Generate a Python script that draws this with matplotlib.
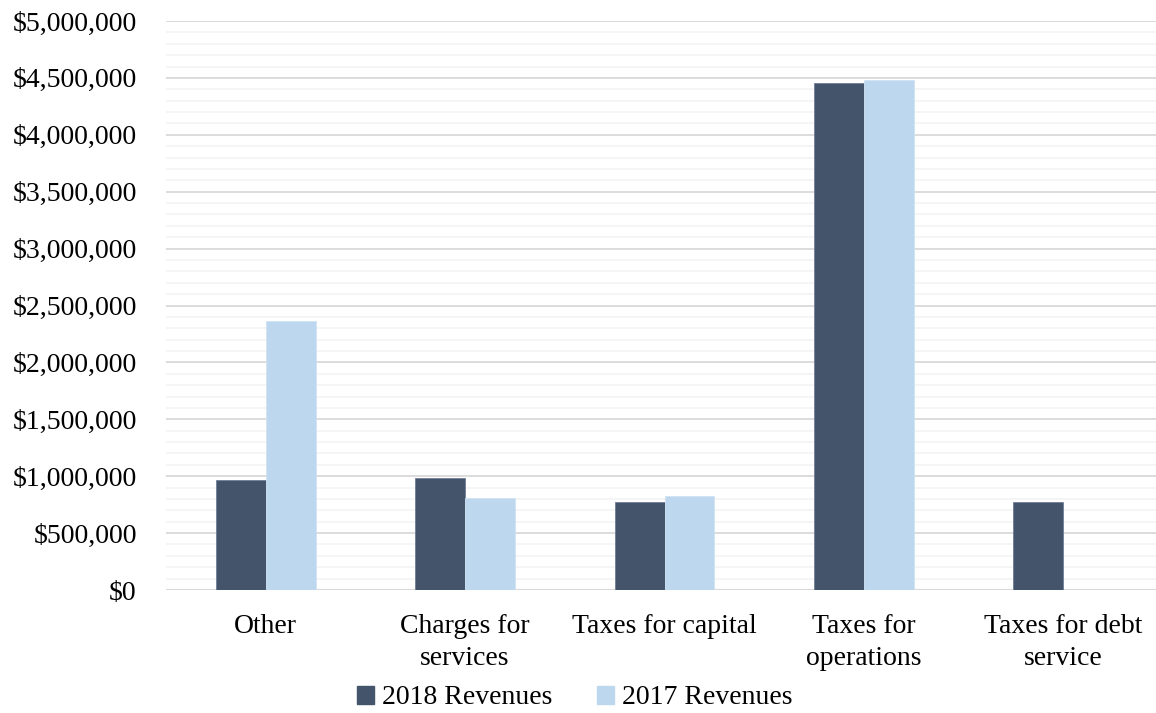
import matplotlib
matplotlib.use("Agg")
import matplotlib.pyplot as plt
from matplotlib.patches import Patch
from matplotlib.ticker import MultipleLocator, FuncFormatter
import numpy as np

categories = ["Other", "Charges for\nservices", "Taxes for capital",
              "Taxes for\noperations", "Taxes for debt\nservice"]
rev_2018 = [965000, 987000, 771000, 4453000, 771000]
rev_2017 = [2364000, 806000, 829000, 4482000, 0]
series_names = ["2018 Revenues", "2017 Revenues"]
colors = ["#44546A", "#BDD7EE"]

plt.rcParams['font.family'] = ['Liberation Serif', 'DejaVu Serif']

fig = plt.figure(figsize=(11.56, 7.13), dpi=100)
W, H = 1156, 713
ax = fig.add_axes([166 / W, 1 - 590 / H, 997 / W, (590 - 21) / H])

x = np.arange(len(categories))
bw = 0.25
ax.bar(x - bw / 2, rev_2018, width=bw, color=colors[0], edgecolor="#6f7f95", linewidth=0.6, zorder=3)
ax.bar(x + bw / 2, rev_2017, width=bw, color=colors[1], edgecolor="#d0e3f4", linewidth=0.6, zorder=3)

ax.set_xlim(-0.5, len(categories) - 0.5)
ax.set_ylim(0, 5000000)
ax.yaxis.set_major_locator(MultipleLocator(500000))
ax.yaxis.set_minor_locator(MultipleLocator(100000))
ax.yaxis.set_major_formatter(FuncFormatter(lambda v, p: "${:,.0f}".format(v)))
ax.grid(which="major", axis="y", color="#D9D9D9", linewidth=1.3, zorder=0)
ax.grid(which="minor", axis="y", color="#F4F4F4", linewidth=1.3, zorder=0)
for s in ax.spines.values():
    s.set_visible(False)
ax.axhline(0, color="#D9D9D9", linewidth=1.5, zorder=2)

ax.set_xticks(x)
ax.set_xticklabels(categories, fontsize=20, linespacing=1.4)
ax.tick_params(axis="x", length=0, pad=17)
ax.tick_params(axis="y", which="both", length=0, pad=21, labelsize=20)

handles = [Patch(facecolor=c, edgecolor=c) for c in colors]
fig.legend(handles, series_names, loc="center", bbox_to_anchor=(575 / W, 1 - 698 / H),
           ncol=2, frameon=False, fontsize=20, handlelength=0.6, handleheight=0.6,
           handletextpad=0.3, columnspacing=1.6)

fig.savefig("out.png", dpi=100)
